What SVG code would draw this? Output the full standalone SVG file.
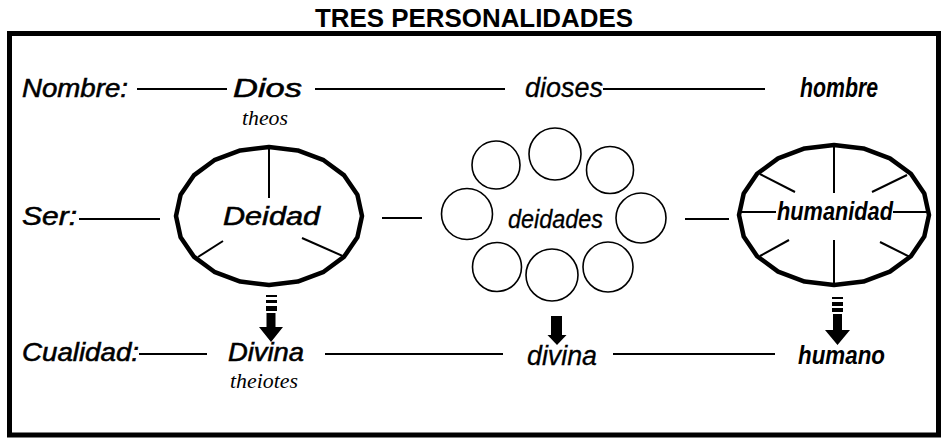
<svg xmlns="http://www.w3.org/2000/svg" width="943" height="439" viewBox="0 0 943 439">
<style>
.title{font-family:"Liberation Sans",Arial,sans-serif;font-weight:bold;font-size:25px;fill:#000}
.lab{font-family:"Liberation Sans",Arial,sans-serif;font-style:italic;font-size:26px;fill:#000;stroke:#000;stroke-width:0.55}
.reg{font-family:"Liberation Sans",Arial,sans-serif;font-style:italic;font-size:27px;fill:#000;stroke:#000;stroke-width:0.3}
.bold{font-family:"Liberation Sans",Arial,sans-serif;font-style:italic;font-weight:bold;font-size:27px;fill:#000}
.greek{font-family:"Liberation Serif","Times New Roman",serif;font-style:italic;font-size:22px;fill:#000}
.conn line{stroke:#000;stroke-width:2}
.spoke{stroke:#000;stroke-width:2}
.oval{fill:none;stroke:#000;stroke-width:4.5;stroke-linejoin:round}
.circ{fill:none;stroke:#000;stroke-width:1.6}
.arr{fill:#000}
</style>
<rect x="9.5" y="33.5" width="929" height="401.5" fill="none" stroke="#000" stroke-width="5"/>
<text class="title" x="315" y="27" textLength="318" lengthAdjust="spacingAndGlyphs">TRES PERSONALIDADES</text>

<g id="connectors" class="conn">
<line x1="137" y1="89" x2="227" y2="89"/>
<line x1="315" y1="89" x2="505" y2="89"/>
<line x1="603" y1="89" x2="765" y2="89"/>
<line x1="79" y1="219" x2="160" y2="219"/>
<line x1="382" y1="218" x2="422" y2="218"/>
<line x1="685" y1="219" x2="729" y2="219"/>
<line x1="139" y1="354" x2="207" y2="354"/>
<line x1="325" y1="354" x2="503" y2="354"/>
<line x1="613" y1="354" x2="775" y2="354"/>
</g>

<g id="label-nombre"><text class="lab" x="22" y="97" textLength="106" lengthAdjust="spacingAndGlyphs">Nombre:</text></g>
<g id="label-ser"><text class="lab" x="22" y="225" textLength="55" lengthAdjust="spacingAndGlyphs">Ser:</text></g>
<g id="label-cualidad"><text class="lab" x="22" y="361" textLength="117" lengthAdjust="spacingAndGlyphs">Cualidad:</text></g>

<g id="dios">
<text class="lab" x="233" y="97" textLength="69" lengthAdjust="spacingAndGlyphs">Dios</text>
<text class="greek" x="242" y="125" textLength="46" lengthAdjust="spacingAndGlyphs">theos</text>
</g>
<g id="dioses"><text class="reg" x="525" y="97" textLength="78" lengthAdjust="spacingAndGlyphs">dioses</text></g>
<g id="hombre"><text class="bold" x="800" y="97" textLength="78" lengthAdjust="spacingAndGlyphs">hombre</text></g>

<g id="deidad">
<polygon class="oval" points="269,147 297.7,150.4 323.7,160.2 344.2,175.4 357.4,194.7 362,216 357.4,237.3 344.2,256.6 323.7,271.8 297.7,281.6 269,285 240.3,281.6 214.3,271.8 193.8,256.6 180.6,237.3 176,216 180.6,194.7 193.8,175.4 214.3,160.2 240.3,150.4"/>
<line class="spoke" x1="269" y1="147" x2="269" y2="198"/>
<line class="spoke" x1="198" y1="257" x2="223" y2="241"/>
<line class="spoke" x1="302" y1="238" x2="345" y2="257"/>
<text class="lab" x="223" y="225" textLength="97" lengthAdjust="spacingAndGlyphs">Deidad</text>
</g>

<g id="deidades">
<circle class="circ" cx="496" cy="165" r="24"/>
<circle class="circ" cx="555" cy="154" r="26"/>
<circle class="circ" cx="610" cy="170" r="23.5"/>
<circle class="circ" cx="467" cy="214" r="25.5"/>
<circle class="circ" cx="641" cy="218" r="25"/>
<circle class="circ" cx="497" cy="267" r="24.5"/>
<circle class="circ" cx="552" cy="275" r="26"/>
<circle class="circ" cx="608" cy="267" r="25"/>
<text class="reg" x="508" y="228" textLength="95" lengthAdjust="spacingAndGlyphs" style="font-size:26px">deidades</text>
</g>

<g id="humanidad">
<polygon class="oval" points="834,145 863.4,148.4 889.9,158.4 910.9,173.8 924.3,193.4 929,215 924.3,236.6 910.9,256.2 889.9,271.6 863.4,281.6 834,285 804.6,281.6 778.1,271.6 757.1,256.2 743.7,236.6 739,215 743.7,193.4 757.1,173.8 778.1,158.4 804.6,148.4"/>
<line class="spoke" x1="834" y1="145" x2="834" y2="193"/>
<line class="spoke" x1="834" y1="240" x2="834" y2="285"/>
<line class="spoke" x1="739" y1="212" x2="776" y2="212"/>
<line class="spoke" x1="893" y1="212" x2="929" y2="212"/>
<line class="spoke" x1="760" y1="174" x2="795" y2="192"/>
<line class="spoke" x1="872" y1="192" x2="907" y2="175"/>
<line class="spoke" x1="760" y1="256" x2="789" y2="240"/>
<line class="spoke" x1="880" y1="242" x2="910" y2="257"/>
<text class="bold" x="777" y="220" textLength="116" lengthAdjust="spacingAndGlyphs" style="font-size:25px">humanidad</text>
</g>

<g id="arrows" class="arr">
<rect x="266" y="295" width="11" height="2"/>
<rect x="266" y="300" width="11" height="3"/>
<rect x="266" y="306" width="11" height="5"/>
<path d="M266.5,313 H275.5 V327 H283 L271,342 L259,327 H266.5 Z"/>
<rect x="551" y="316" width="11" height="19"/>
<path d="M547.5,335 H566.5 L557,345 Z"/>
<rect x="832" y="297" width="11" height="2"/>
<rect x="832" y="302" width="11" height="4"/>
<rect x="832" y="308" width="11" height="4"/>
<path d="M833,314 H842 V330 H850 L837.5,345 L825,330 H833 Z"/>
</g>

<g id="divina1">
<text class="lab" x="228" y="361" textLength="76" lengthAdjust="spacingAndGlyphs">Divina</text>
<text class="greek" x="230" y="388" textLength="68" lengthAdjust="spacingAndGlyphs">theiotes</text>
</g>
<g id="divina2"><text class="reg" x="527" y="365" textLength="70" lengthAdjust="spacingAndGlyphs">divina</text></g>
<g id="humano"><text class="bold" x="798" y="364" textLength="87" lengthAdjust="spacingAndGlyphs" style="font-size:26px">humano</text></g>
</svg>
